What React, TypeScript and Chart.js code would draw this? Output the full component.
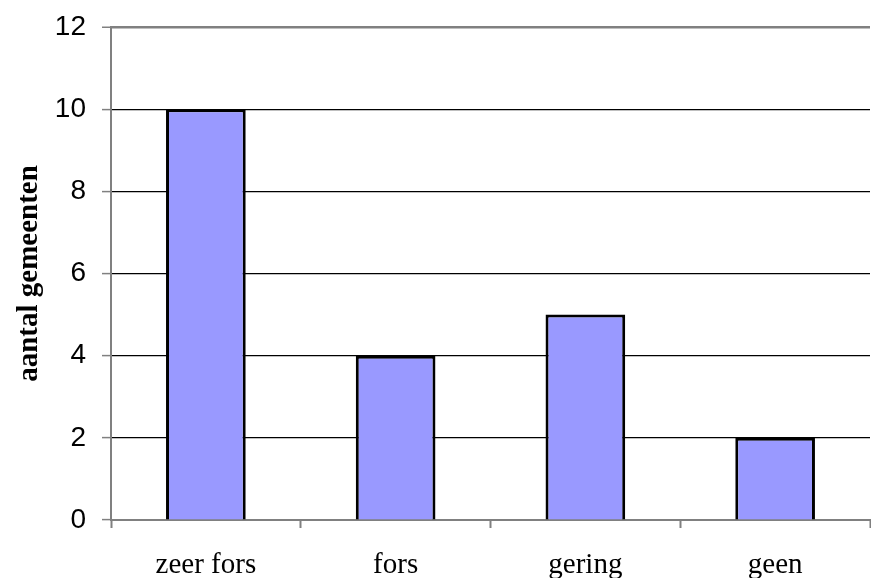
import React, { useEffect, useRef } from "react";
import { Chart, registerables } from "chart.js";

Chart.register(...registerables);

const categories = ["zeer fors", "fors", "gering", "geen"];
const values = [10, 4, 5, 2];
const yTitle = "aantal gemeenten";
const yMin = 0;
const yMax = 12;
const yStep = 2;

export default function App() {
  const ref = useRef<HTMLCanvasElement | null>(null);
  useEffect(() => {
    document.body.style.margin = "0";
    const chart = new Chart(ref.current as HTMLCanvasElement, {
      type: "bar",
      data: {
        labels: categories,
        datasets: [
          {
            data: values,
            backgroundColor: "#9999FF",
            borderColor: "#000000",
            borderWidth: 3,
            categoryPercentage: 1,
            barPercentage: 0.42,
          },
        ],
      },
      options: {
        animation: false,
        responsive: false,
        maintainAspectRatio: false,
        layout: { padding: { top: 27, right: 1, left: 0, bottom: 0 } },
        plugins: { legend: { display: false }, tooltip: { enabled: false } },
        scales: {
          x: {
            offset: true,
            afterFit: (s: any) => {
              s.height = 58;
              s.paddingLeft = 0;
              s.paddingRight = 0;
            },
            grid: {
              offset: true,
              drawOnChartArea: false,
              drawTicks: true,
              tickLength: 8,
              tickColor: "#808080",
              tickWidth: 2,
            },
            border: { color: "#808080", width: 2 },
            ticks: {
              color: "#000",
              padding: 20,
              font: { family: "Liberation Serif", size: 29 },
              maxRotation: 0,
            },
          },
          y: {
            min: yMin,
            max: yMax,
            afterFit: (s: any) => {
              s.width = 111;
              s.paddingTop = 0;
              s.paddingBottom = 0;
            },
            grid: {
              color: (ctx: any) =>
                ctx.tick && (ctx.tick.value === yMax || ctx.tick.value === yMin) ? "#808080" : "#000000",
              lineWidth: (ctx: any) => (ctx.tick && ctx.tick.value === yMax ? 2.5 : 1.2),
              tickLength: 9,
              tickColor: "#808080",
              tickWidth: 1.5,
            },
            border: { color: "#808080", width: 2 },
            ticks: {
              stepSize: yStep,
              color: "#000",
              padding: 16,
              font: { family: "Liberation Sans", size: 28 },
            },
            title: {
              display: true,
              text: yTitle,
              color: "#000",
              padding: { top: 12, bottom: 0 },
              font: { family: "Liberation Serif", size: 29, weight: "bold" },
            },
          },
        },
      },
    });
    return () => chart.destroy();
  }, []);
  return (
    <div style={{ position: "absolute", left: 0, top: 0, width: 871, height: 578 }}>
      <canvas ref={ref} width={871} height={578} style={{ width: 871, height: 578 }} />
    </div>
  );
}
